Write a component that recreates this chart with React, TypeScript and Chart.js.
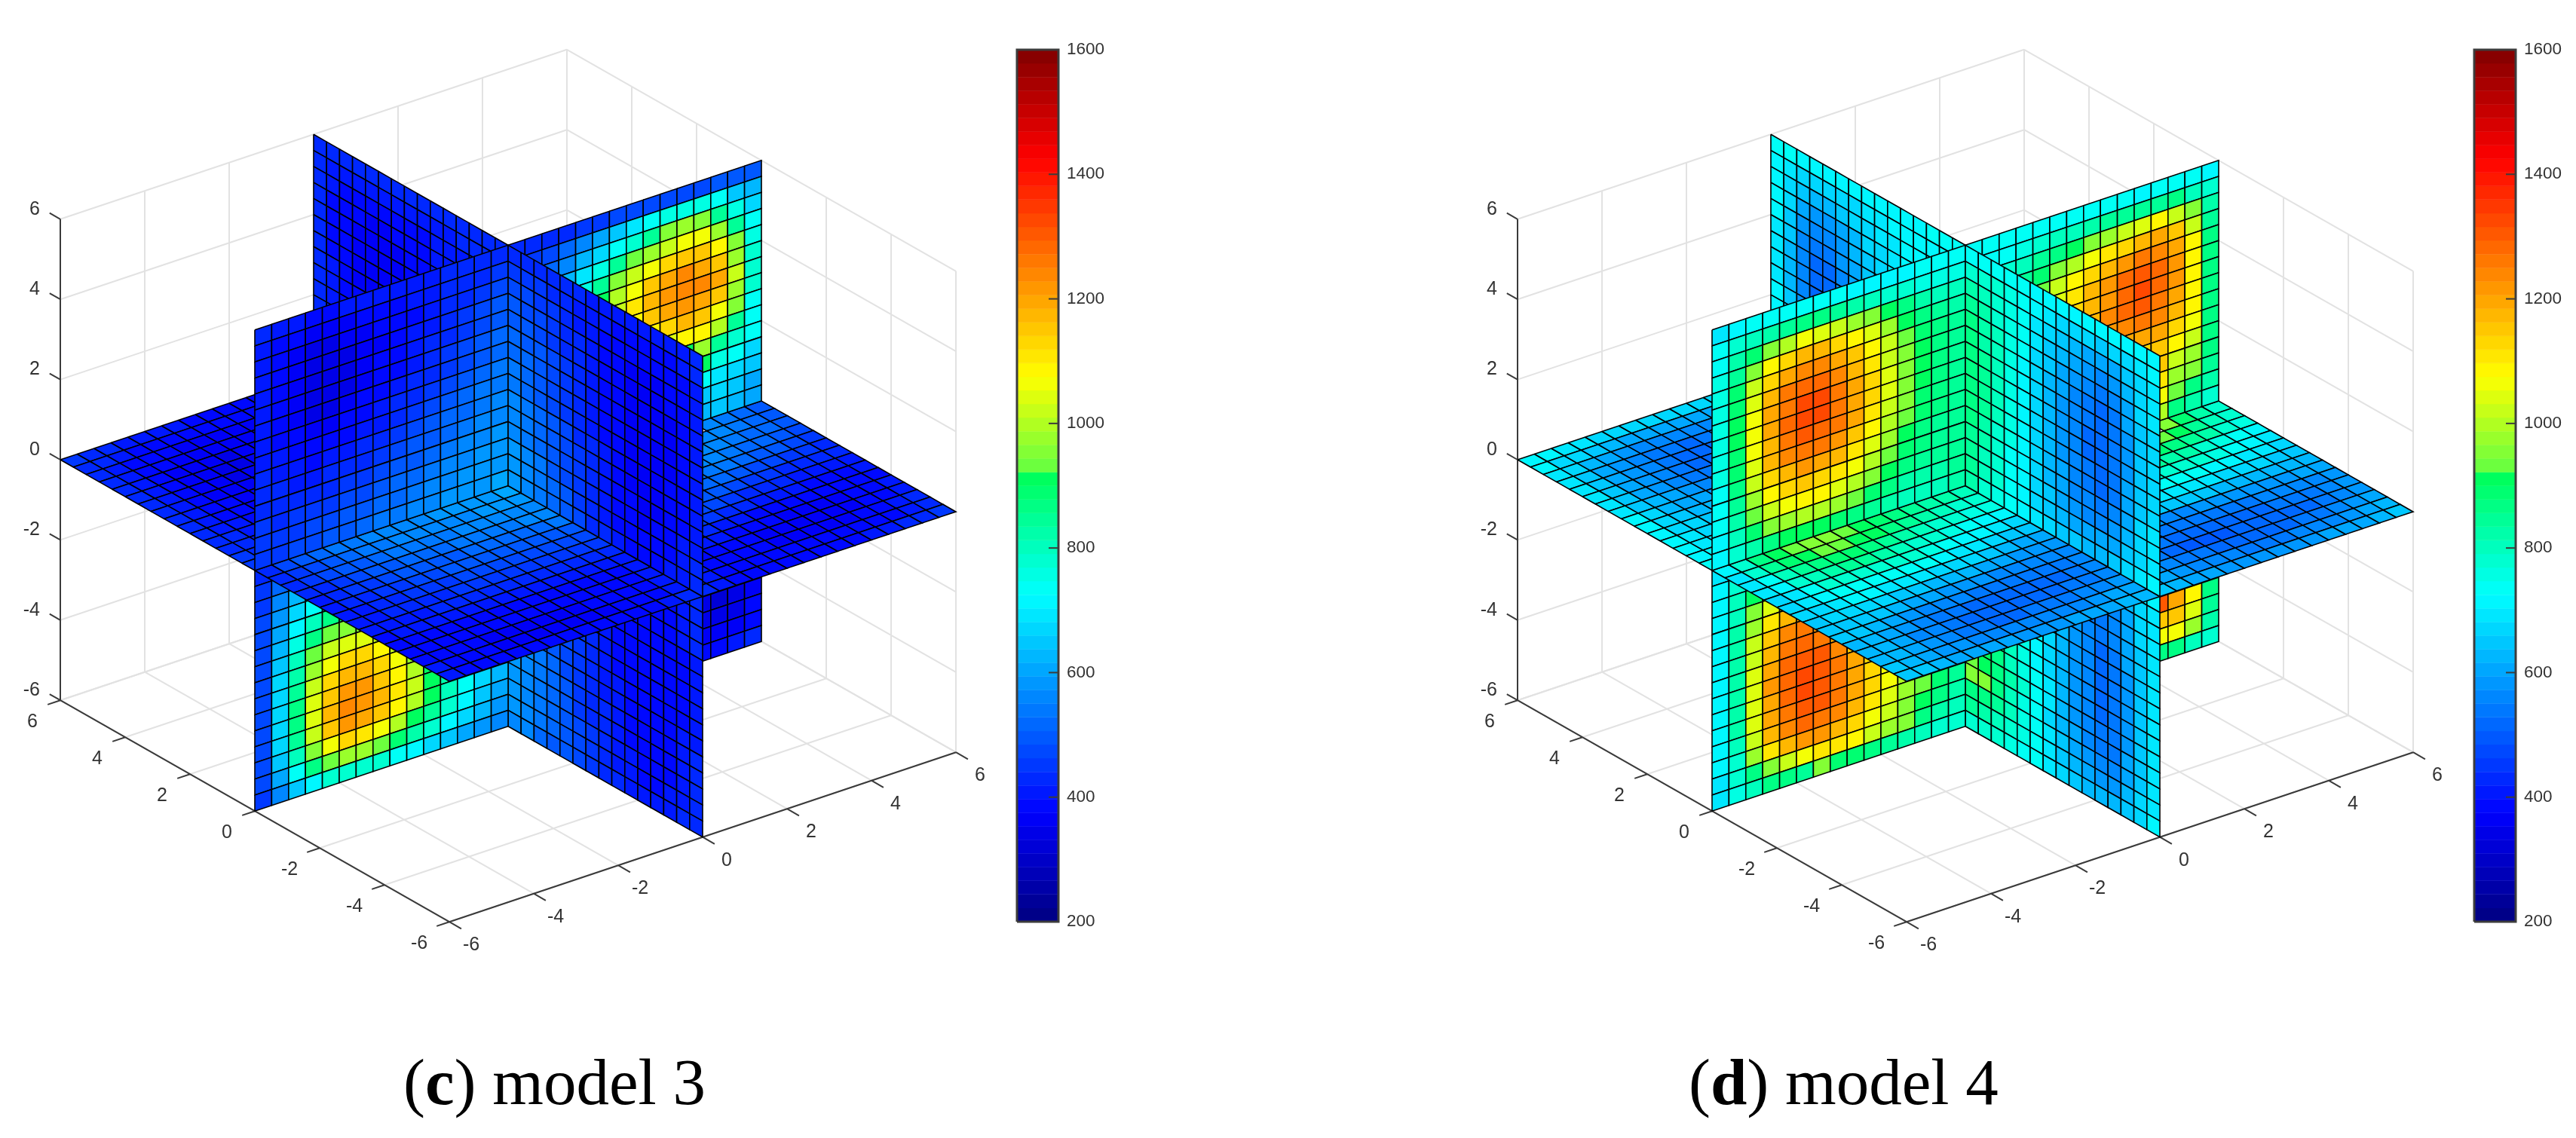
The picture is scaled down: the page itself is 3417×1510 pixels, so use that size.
import React, { useEffect, useRef } from "react";
import { Chart, registerables } from "chart.js";

Chart.register(...registerables);

const _ = null;

// ---------- model 3: cell temperatures ----------
const wallE3 = [
[420,410,400,395,395,400,400,405,410,410,415,420,425,430,440],
[410,395,375,365,365,370,375,385,395,400,410,420,430,440,460],
[405,385,365,350,350,355,365,375,385,395,410,420,435,450,480],
[400,380,355,345,340,350,360,370,385,400,415,430,445,465,490],
[400,375,355,340,335,345,360,375,390,405,420,440,455,475,500],
[405,380,355,345,340,350,365,380,395,410,430,450,470,490,510],
[405,385,365,350,350,360,375,390,405,420,440,460,480,500,520],
[410,390,375,365,365,375,385,400,420,435,455,475,495,515,530],
[415,400,385,380,380,390,400,415,435,450,470,490,510,530,545],
[420,410,400,395,400,405,420,435,450,470,490,510,525,545,555],
[430,420,415,415,420,425,440,455,470,490,505,525,540,555,565],
[440,430,430,430,440,445,460,475,490,505,525,540,555,565,575],
[445,440,445,450,455,465,475,490,510,525,540,555,565,575,585],
[450,450,455,465,475,485,495,510,525,540,555,565,575,585,590],
[455,460,470,480,490,500,515,530,545,555,565,575,585,590,595],
];
const wallF3 = [
[440,440,435,430,425,420,415,410,410,405,405,405,410,415,425],
[460,455,445,435,425,415,405,400,395,390,390,390,395,405,420],
[480,470,455,445,430,415,405,395,385,380,375,380,385,395,415],
[495,480,465,450,435,420,405,390,380,370,365,370,380,395,410],
[505,490,475,460,440,420,405,390,375,365,360,365,375,390,410],
[515,500,485,465,445,425,405,390,375,365,360,360,370,390,405],
[525,510,490,470,450,430,410,390,375,365,355,360,370,385,405],
[535,515,495,475,455,435,410,395,375,365,355,360,370,385,405],
[540,525,505,480,460,435,415,395,380,365,355,360,370,385,405],
[550,530,510,485,465,440,420,400,380,365,360,360,375,390,410],
[560,540,515,495,470,445,425,400,385,370,360,365,375,390,410],
[565,545,525,500,475,450,425,405,385,375,365,370,380,395,410],
[575,555,530,505,480,455,430,410,390,380,370,375,385,400,415],
[585,560,535,510,485,460,435,415,395,385,380,380,390,405,420],
[590,565,540,515,490,465,440,420,405,395,390,390,400,410,425],
];
const floorG3 = [
[440,470,495,515,530,545,555,560,565,570,575,580,585,590,595],
[430,455,480,505,525,535,545,550,555,560,565,570,575,580,585],
[425,445,470,490,505,520,530,535,540,545,550,555,560,565,570],
[420,440,455,475,490,500,510,520,525,530,535,540,545,550,550],
[415,430,445,460,475,485,495,500,505,510,515,520,525,525,530],
[410,425,435,450,460,470,480,485,490,490,495,500,500,505,505],
[405,415,425,435,445,455,460,465,470,470,475,475,480,480,480],
[400,410,420,425,435,440,445,450,450,450,455,455,455,455,455],
[400,405,410,415,420,425,430,430,430,430,430,430,430,430,430],
[395,400,400,405,410,410,410,410,410,410,410,410,410,410,410],
[395,395,395,395,395,395,395,395,395,395,395,395,395,395,400],
[395,390,385,385,385,380,380,380,380,380,380,385,385,390,400],
[395,385,380,375,370,370,370,370,370,370,375,375,385,390,405],
[400,390,380,375,370,365,365,365,365,370,370,380,385,395,410],
[405,395,385,380,375,375,375,375,375,380,380,385,395,405,420],
];
const wallH3 = [
[430,470],
[450,520,560],
[460,560,620,650],
[470,590,680,740,780],
[470,610,720,800,860,880],
[475,630,760,870,930,960,960],
[480,650,800,930,1010,1040,1040,1010],
[480,660,830,980,1070,1120,1120,1080,1020],
[480,670,850,1020,1130,1180,1180,1130,1060,980],
[480,670,860,1040,1160,1210,1210,1160,1090,1000,910],
[480,670,860,1050,1170,1230,1220,1170,1100,1010,920,830],
[480,660,850,1030,1150,1210,1200,1150,1080,990,900,810,730,670,620],
[475,640,810,960,1070,1120,1110,1070,1000,920,840,770,710,650,600],
[470,610,740,860,940,980,980,940,890,830,770,715,670,620,580],
[460,570,650,720,770,790,790,770,740,710,680,640,610,580,550],
];
const wallB3 = [
[430,430,430,440,450,460,470,480,480,480,480,480,485,485,485],
[_,460,480,510,550,600,650,700,735,750,760,750,725,650,620],
[_,_,520,570,620,680,730,790,850,950,970,960,850,760,670],
[_,_,_,620,690,760,840,940,980,1025,1060,1060,980,850,725],
[_,_,_,_,760,850,950,1010,1060,1140,1150,1150,1075,950,760],
[_,_,_,_,_,900,1000,1070,1150,1190,1230,1190,1150,980,780],
[_,_,_,_,_,_,1020,1100,1170,1210,1240,1230,1190,1025,790],
[_,_,_,_,_,_,_,1080,1150,1200,1220,1190,1150,980,790],
[_,_,_,_,_,_,_,_,1090,1140,1170,1150,1060,950,740],
[_,_,_,_,_,_,_,_,_,1050,1080,1075,1000,850,725],
[_,_,_,_,_,_,_,_,_,_,920,980,850,780,725],
[_,_,_,_,_,_,_,_,_,_,_,900,760,725,680],
[_,_,_,_,_,_,_,_,_,_,_,725,700,680,640],
[_,_,_,_,_,_,_,_,_,_,_,650,660,640,610],
[_,_,_,_,_,_,_,_,_,_,_,620,640,620,600],
];
const wallA3 = [
[440,430,425,425,425,425,425,425,425,430,430,430,430,435,440],
[430,410,405,400,400,400,400,400,405,410,415,420,425,430],
[425,405,390,385,385,385,385,390,395,400,405,415,425],
[425,395,380,375,370,370,375,380,390,400,410],
[425,395,375,365,365,365,370,380,390,400],
[425,395,375,360,360,360,370,380,395],
[425,395,375,360,360,365,375],
[425,400,380,365,365,370],
[430,405,385,375,375],
[430,410,395],
[435,415],
];
const floorC3 = [
[450,435,425,415,410,405,400,395,395,395,395,395],
[440,420,405,395,390,385,380,380,380,380,385],
[435,410,395,385,375,370,365,365,365,370,375],
[430,405,385,375,365,360,355,355,360,365],
[430,400,380,370,360,355,350,355,360],
[430,400,380,365,355,350,350,355],
[430,400,380,365,355,350,355],
[430,405,385,370,360,355,360],
[430,405,390,375,365,360],
[435,410,395,380,370],
[435,415,400,385],
[440,420,405,395],
[440,425,410],
[445,430],
[445],
];
const floorD3 = [
[_,_,_,_,_,_,_,_,_,_,_,560,540,520,500],
[_,_,_,_,_,_,_,_,_,_,560,550,540,520,500],
[_,_,_,_,_,_,_,_,_,560,550,530,520,510,490],
[_,_,_,_,_,_,_,_,555,550,540,520,510,490,475],
[_,_,_,_,_,_,_,545,540,530,510,500,490,470,460],
[_,_,_,_,_,_,_,520,510,500,480,470,460,450,440],
[_,_,_,_,_,_,500,490,480,460,450,440,430,430,425],
[_,_,_,_,_,480,470,460,440,430,420,415,410,410,415],
[_,_,_,_,455,450,440,425,415,405,400,395,395,395,400],
[_,_,_,430,425,415,405,395,385,380,380,380,380,385,395],
[_,_,415,405,400,390,385,375,370,370,370,370,375,385,400],
[420,410,395,385,380,375,370,365,365,365,370,370,380,395,415],
[420,405,395,385,380,375,370,370,370,370,370,375,385,400,420],
[420,405,395,385,385,380,375,375,375,375,380,385,395,410,430],
[420,405,395,390,385,385,385,385,390,395,400,410,420,430,445],
];
const wallI3 = [
[_,_,_,_,_,_,_,_,_,_,_,_,_,415,430],
[_,_,_,_,_,_,_,_,_,_,_,_,395,410,425],
[_,_,_,_,_,_,_,_,_,_,375,385,395,410,420],
[_,_,_,_,_,_,_,_,_,385,380,385,395,410,420],
[_,_,_,_,_,_,_,_,395,385,375,375,385,395,415],
[_,_,_,_,_,_,430,410,395,385,375,375,385,395,415],
[_,_,_,_,_,450,430,410,395,385,375,375,385,395,415],
[_,_,_,_,475,450,430,410,395,385,375,375,385,395,415],
[_,_,525,500,475,455,430,415,400,385,375,375,385,395,415],
[_,560,530,510,480,455,435,415,400,390,380,375,385,400,415],
[590,560,540,510,485,460,440,420,405,390,380,380,385,400,420],
[590,565,540,510,485,460,440,425,410,395,385,385,390,400,420],
[590,565,535,510,485,465,445,425,415,400,390,390,395,405,420],
[585,560,535,510,485,465,445,430,415,405,395,395,400,410,425],
[570,550,525,505,485,465,445,430,420,410,405,405,410,420,430],
];
const wallJ3 = [
[335,330,340,360],
[345,340,350,375],
[365,360,370,395],
[395,390,400,420],
];

// ---------- model 4: cell temperatures ----------
const wallE4 = [
[700,720,730,730,730,730,725,725,720,720,720,720,725,725,725],
[725,770,800,830,850,860,860,850,830,810,790,770,760,750,760],
[740,820,890,950,1000,1060,1050,1010,980,950,900,860,830,810,800],
[750,850,960,1075,1130,1170,1170,1140,1090,1040,970,910,870,840,830],
[760,880,1020,1130,1200,1240,1240,1200,1150,1080,1010,940,890,860,850],
[760,890,1050,1170,1250,1290,1290,1240,1180,1100,1030,950,900,870,850],
[760,900,1070,1190,1270,1320,1330,1270,1200,1120,1040,960,900,870,850],
[760,900,1070,1190,1280,1320,1330,1270,1200,1120,1040,960,900,860,850],
[760,890,1060,1180,1260,1300,1290,1250,1190,1100,1030,950,890,860,850],
[750,880,1050,1170,1230,1260,1250,1210,1150,1080,1000,930,880,860,850],
[740,870,1020,1120,1180,1210,1200,1170,1100,1040,970,910,870,850,850],
[740,850,980,1080,1120,1150,1140,1110,1060,1000,940,890,860,850,850],
[730,830,930,1020,1060,1080,1075,1040,1000,950,900,860,840,840,850],
[720,810,880,950,980,1000,990,970,930,890,860,830,830,830,840],
[710,780,830,860,900,910,900,890,870,850,820,810,810,810,820],
];
const wallF4 = [
[725,735,735,730,725,720,715,715,715,715,715,715,715,715,710],
[780,780,770,750,730,710,695,680,670,660,650,660,680,700,710],
[830,810,790,760,725,695,670,645,630,610,600,610,640,680,700],
[850,830,790,760,725,690,650,620,600,580,570,580,620,670,690],
[860,830,800,760,725,680,640,610,580,560,540,560,610,660,690],
[860,830,800,760,720,670,630,600,570,540,525,545,600,650,680],
[860,840,800,760,715,670,630,590,560,530,515,535,590,650,680],
[860,840,800,760,710,660,620,585,550,525,510,530,590,650,680],
[860,840,800,760,710,660,620,585,550,525,510,530,590,650,680],
[860,840,800,760,715,670,620,590,550,530,515,535,595,650,680],
[860,830,790,750,715,670,630,595,560,535,525,545,600,655,680],
[850,820,790,745,710,670,635,600,570,550,540,560,610,660,690],
[850,810,780,740,710,675,640,610,585,570,560,580,625,670,695],
[840,800,770,735,710,680,650,625,610,600,595,610,640,680,700],
[830,790,760,730,710,685,665,650,640,635,630,640,660,690,705],
];
const floorG4 = [
[720,790,860,900,930,950,950,940,920,890,860,840,830,820,810],
[700,770,840,880,910,930,930,920,900,870,840,820,800,790,780],
[690,740,800,840,860,880,880,870,850,830,810,790,770,760,750],
[690,720,770,810,830,840,840,830,810,790,770,750,735,720,710],
[680,700,740,770,790,790,790,780,770,750,735,720,705,690,680],
[670,690,715,735,745,745,740,735,725,715,700,685,670,655,645],
[660,680,695,705,705,695,690,685,680,670,660,645,630,615,610],
[650,670,675,675,665,650,640,635,630,625,615,600,590,580,580],
[645,655,650,640,625,605,595,590,585,580,570,560,555,550,560],
[640,640,630,610,590,570,555,550,545,540,535,530,530,530,550],
[630,625,610,580,560,540,530,520,520,520,520,520,520,530,555],
[630,620,600,570,550,530,520,515,515,515,520,520,530,545,570],
[630,620,600,575,555,540,530,525,525,530,530,540,550,570,590],
[640,625,610,590,575,560,555,550,550,555,560,565,580,595,610],
[650,640,625,615,605,600,595,590,590,590,595,605,610,620,635],
];
const wallH4 = [
[700,760],
[710,780,840],
[710,800,900,950],
[715,810,950,1050,1090],
[715,820,980,1110,1170,1190],
[715,830,1010,1150,1230,1250,1220],
[715,830,1030,1180,1260,1290,1270,1200],
[715,830,1040,1200,1280,1310,1300,1240,1160],
[715,830,1050,1210,1290,1320,1310,1260,1190,1120],
[715,820,1050,1200,1280,1320,1310,1260,1200,1130,1060],
[715,820,1040,1190,1270,1310,1310,1260,1200,1130,1070,1000],
[715,810,1020,1170,1240,1280,1270,1230,1170,1110,1050,980,940,880,850],
[710,790,970,1110,1180,1220,1210,1170,1120,1070,1010,950,910,860,830],
[700,770,860,960,1025,1060,1110,1100,1075,1025,980,950,870,830,800],
[700,760,800,870,870,850,950,880,880,860,850,830,800,780,770],
];
const wallB4 = [
[725,730,730,725,725,725,725,725,725,725,720,725,725,725,710],
[_,735,745,760,780,800,810,830,840,850,850,850,860,810,770],
[_,_,780,810,840,870,900,950,980,1010,1050,1075,1030,950,830],
[_,_,_,850,890,950,1000,1060,1100,1140,1170,1190,1150,1020,850],
[_,_,_,_,940,1010,1075,1130,1170,1220,1250,1240,1190,1075,860],
[_,_,_,_,_,1050,1110,1170,1210,1280,1300,1280,1220,1090,860],
[_,_,_,_,_,_,1120,1180,1220,1290,1320,1290,1220,1090,860],
[_,_,_,_,_,_,_,1170,1230,1280,1300,1270,1200,1090,860],
[_,_,_,_,_,_,_,_,1210,1240,1260,1230,1170,1075,860],
[_,_,_,_,_,_,_,_,_,1190,1200,1190,1120,1060,860],
[_,_,_,_,_,_,_,_,_,_,1140,1150,1080,1020,860],
[_,_,_,_,_,_,_,_,_,_,_,1150,1020,980,860],
[_,_,_,_,_,_,_,_,_,_,_,1110,970,950,840],
[_,_,_,_,_,_,_,_,_,_,_,1060,930,860,820],
[_,_,_,_,_,_,_,_,_,_,_,1000,860,830,790],
];
const wallA4 = [
[725,725,710,710,710,710,715,715,715,715,715,715,725,725,725],
[715,690,670,660,660,670,680,690,700,705,710,715,720,725],
[710,670,640,620,620,640,660,675,690,695,705,715,725],
[710,660,610,585,590,610,635,660,680,695,705],
[705,650,590,560,565,590,620,650,675,695],
[700,640,570,530,540,575,610,645,675],
[700,635,560,520,525,570,610],
[700,635,555,510,520,565],
[700,635,560,520,530],
[705,645,580],
[705,650],
];
const floorC4 = [
[720,710,700,690,680,670,665,660,660,665,670,670],
[710,680,660,640,625,610,605,600,600,605,610],
[700,665,635,610,590,570,560,555,550,555,565],
[700,650,615,590,565,545,530,525,530,540],
[695,645,610,580,555,530,520,515,525],
[695,645,610,580,550,530,520,520],
[700,650,615,590,565,545,535],
[700,655,625,600,580,560,555],
[705,665,635,615,600,585],
[705,670,650,630,620],
[710,680,665,650],
[715,690,675,660],
[715,700,685],
[720,705],
[725],
];
const floorD4 = [
[_,_,_,_,_,_,_,_,_,_,_,950,880,820,790],
[_,_,_,_,_,_,_,_,_,_,930,900,850,800,770],
[_,_,_,_,_,_,_,_,_,880,870,850,820,780,750],
[_,_,_,_,_,_,_,_,840,830,820,790,760,740,720],
[_,_,_,_,_,_,_,790,790,780,770,750,730,715,700],
[_,_,_,_,_,_,_,735,730,725,715,705,695,685,675],
[_,_,_,_,_,_,700,695,690,685,675,670,660,650,650],
[_,_,_,_,_,640,640,640,640,635,630,630,625,620,625],
[_,_,_,_,580,570,570,575,580,585,585,585,590,595,600],
[_,_,_,560,545,530,530,530,540,545,550,555,560,570,580],
[_,_,550,530,515,510,510,515,520,525,530,535,545,560,580],
[580,555,530,515,505,505,505,510,510,510,515,525,540,560,585],
[600,580,555,540,530,525,520,520,520,525,530,540,555,575,600],
[625,605,585,570,560,550,545,545,545,550,555,565,580,595,620],
[640,625,610,600,590,585,580,580,585,590,595,600,610,625,640],
];
const wallI4 = [
[_,_,_,_,_,_,_,_,_,_,_,_,_,690,705],
[_,_,_,_,_,_,_,_,_,_,_,_,625,660,700],
[_,_,_,_,_,_,_,_,_,_,520,555,610,660,700],
[_,_,_,_,_,_,_,_,_,545,530,560,610,660,700],
[_,_,_,_,_,_,_,_,580,550,530,550,600,655,700],
[_,_,_,_,_,_,680,630,590,550,520,540,595,650,695],
[_,_,_,_,_,720,680,630,590,550,520,535,590,650,695],
[_,_,_,_,760,715,670,630,590,550,520,530,590,650,695],
[_,_,860,810,760,720,680,635,590,550,520,530,590,650,695],
[_,900,860,810,765,725,685,635,590,550,525,530,590,650,695],
[940,910,870,820,770,730,685,635,590,555,530,535,590,650,695],
[950,950,860,810,765,725,680,635,595,560,540,545,595,650,695],
[860,860,840,800,760,725,685,645,605,575,555,560,600,655,700],
[840,830,810,785,755,725,690,655,620,595,580,585,620,665,700],
[790,790,780,760,745,725,700,675,650,630,620,625,645,680,710],
];
const wallJ4 = [
[1310,1190,1075,860],
[1160,1150,1040,850],
[1060,1060,970,820],
[870,860,810,780],
];

// ---------- axes ----------
const boxTicks = [-6, -4, -2, 0, 2, 4, 6];
const colorbarTicks = [200, 400, 600, 800, 1000, 1200, 1400, 1600];
const captions = [
  { head: "(", bold: "c", tail: ") model 3" },
  { head: "(", bold: "d", tail: ") model 4" },
];

// ---------- geometry & styles ----------
const W = 3417;
const H = 1510;
const PANEL_DX = [0, 1933];
const CENTER = { x: 674, y: 644.5 };
const EA = { x: -43, y: -24.5 };
const EB = { x: 56, y: -18.75 };
const EZ = -53.2;
const STEP = 0.4;
const CB = { left: 1349, right: 1404, top: 66, bottom: 1223, min: 200, max: 1600, bands: 64 };
const CAPTION_X = [535, 2240];
const CAPTION_Y = 1465;

type P = { x: number; y: number };
const project = (a: number, b: number, z: number, dx: number): P => ({
  x: dx + CENTER.x + a * EA.x + b * EB.x,
  y: CENTER.y + a * EA.y + b * EB.y + z * EZ,
});

function jet(v: number): string {
  const k = Math.max(0, Math.min(CB.bands - 1, Math.floor(((v - CB.min) / (CB.max - CB.min)) * CB.bands)));
  const m = CB.min + ((k + 0.5) * (CB.max - CB.min)) / CB.bands;
  let r = 0, g = 0, b = 0;
  if (m < 375) { b = 128 + (127 * (m - 200)) / 175; }
  else if (m < 725) { b = 255; g = (255 * (m - 375)) / 350; }
  else if (m < 915) { g = 255; b = 255 - (165 * (m - 725)) / 190; }
  else if (m < 1075) { g = 255; r = 90 + (165 * (m - 915)) / 160; b = 70 - (70 * (m - 915)) / 160; }
  else if (m < 1425) { r = 255; g = (255 * (1425 - m)) / 350; }
  else { r = 255 - (127 * (m - 1425)) / 175; }
  return `rgb(${Math.round(r)},${Math.round(g)},${Math.round(b)})`;
}

type Corner = (r: number, c: number) => [number, number, number];
const polygon = (pts: P[], fill: string, stroke: string, width: number) => ({
  data: [...pts, pts[0]],
  backgroundColor: fill,
  borderColor: stroke,
  borderWidth: width,
  fill: "shape",
  pointRadius: 0,
  tension: 0,
  borderJoinStyle: "miter",
});
const segment = (p: P, q: P, color: string, width: number) => ({
  data: [p, q],
  borderColor: color,
  borderWidth: width,
  fill: false,
  pointRadius: 0,
  tension: 0,
});

function cells(m: (number | null)[][], at: Corner, dx: number, r0 = 0, c0 = 0) {
  const out: any[] = [];
  m.forEach((row, ri) =>
    row.forEach((v, ci) => {
      if (v === null) return;
      const r = ri + r0;
      const c = ci + c0;
      const pts = [at(r, c), at(r, c + 1), at(r + 1, c + 1), at(r + 1, c)].map((p) => project(p[0], p[1], p[2], dx));
      out.push(polygon(pts, jet(v), "#000000", 1.6));
    })
  );
  return out;
}

const atE: Corner = (r, c) => [0, -6 + STEP * c, 6 - STEP * r];
const atF: Corner = (r, c) => [-STEP * c, 0, 6 - STEP * r];
const atH: Corner = (r, c) => [0, -6 + STEP * c, -STEP * r];
const atI: Corner = (r, c) => [-STEP * c, 0, -STEP * r];
const atA: Corner = (r, c) => [6 - STEP * c, 0, 6 - STEP * r];
const atB: Corner = (r, c) => [0, STEP * c, 6 - STEP * r];
const atJ: Corner = (r, c) => [0, STEP * c, -STEP * r];
const atG: Corner = (r, c) => [-STEP * r, -6 + STEP * c, 0];
const atC: Corner = (r, c) => [6 - STEP * r, -6 + STEP * c, 0];
const atD: Corner = (r, c) => [-STEP * r, STEP * c, 0];

const models = [
  { E: wallE3, F: wallF3, G: floorG3, H: wallH3, B: wallB3, A: wallA3, C: floorC3, D: floorD3, I: wallI3, J: wallJ3 },
  { E: wallE4, F: wallF4, G: floorG4, H: wallH4, B: wallB4, A: wallA4, C: floorC4, D: floorD4, I: wallI4, J: wallJ4 },
];

function buildDatasets() {
  const ds: any[] = [];
  const GRID = "#e2e2e2";
  const AXIS = "#3a3a3a";
  models.forEach((m, idx) => {
    const dx = PANEL_DX[idx];
    boxTicks.forEach((t) => {
      ds.push(segment(project(t, -6, -6, dx), project(t, 6, -6, dx), GRID, 2));
      ds.push(segment(project(-6, t, -6, dx), project(6, t, -6, dx), GRID, 2));
      ds.push(segment(project(6, t, -6, dx), project(6, t, 6, dx), GRID, 2));
      ds.push(segment(project(6, -6, t, dx), project(6, 6, t, dx), GRID, 2));
      ds.push(segment(project(t, 6, -6, dx), project(t, 6, 6, dx), GRID, 2));
      ds.push(segment(project(6, 6, t, dx), project(-6, 6, t, dx), GRID, 2));
    });
    ds.push(segment(project(6, -6, -6, dx), project(6, -6, 6, dx), AXIS, 2));
    ds.push(segment(project(6, -6, -6, dx), project(-6, -6, -6, dx), AXIS, 2));
    ds.push(segment(project(-6, -6, -6, dx), project(-6, 6, -6, dx), AXIS, 2));
    boxTicks.forEach((t) => {
      ds.push(segment(project(6, -6, t, dx), project(6.33, -6, t, dx), AXIS, 2));
      ds.push(segment(project(t, -6, -6, dx), project(t, -6.3, -6, dx), AXIS, 2));
      ds.push(segment(project(-6, t, -6, dx), project(-6.37, t, -6, dx), AXIS, 2));
    });
    ds.push(...cells(m.J, atJ, dx, 11, 11));
    ds.push(...cells(m.I, atI, dx));
    ds.push(...cells(m.H, atH, dx));
    ds.push(...cells(m.C, atC, dx));
    ds.push(...cells(m.D, atD, dx));
    ds.push(...cells(m.G, atG, dx));
    ds.push(...cells(m.A, atA, dx));
    ds.push(...cells(m.B, atB, dx));
    ds.push(...cells(m.E, atE, dx));
    ds.push(...cells(m.F, atF, dx));

    const yOf = (v: number) => CB.bottom - ((v - CB.min) / (CB.max - CB.min)) * (CB.bottom - CB.top);
    for (let k = 0; k < CB.bands; k++) {
      const lo = CB.min + (k * (CB.max - CB.min)) / CB.bands;
      const hi = CB.min + ((k + 1) * (CB.max - CB.min)) / CB.bands;
      const col = jet((lo + hi) / 2);
      ds.push(polygon(
        [{ x: CB.left + dx, y: yOf(lo) }, { x: CB.right + dx, y: yOf(lo) }, { x: CB.right + dx, y: yOf(hi) }, { x: CB.left + dx, y: yOf(hi) }],
        col, col, 0.5));
    }
    ds.push({
      ...polygon(
        [{ x: CB.left + dx, y: CB.bottom }, { x: CB.right + dx, y: CB.bottom }, { x: CB.right + dx, y: CB.top }, { x: CB.left + dx, y: CB.top }],
        "rgba(0,0,0,0)", "#3c3c3c", 3),
      fill: false,
    });
    colorbarTicks.slice(1, -1).forEach((v) =>
      ds.push(segment({ x: CB.right + dx - 13, y: yOf(v) }, { x: CB.right + dx, y: yOf(v) }, "#3c3c3c", 2))
    );
  });
  return ds.reverse();
}

const textPlugin = {
  id: "panelText",
  afterDatasetsDraw(chart: any) {
    const { ctx, scales } = chart;
    const px = (x: number) => scales.x.getPixelForValue(x);
    const py = (y: number) => scales.y.getPixelForValue(y);
    ctx.save();
    ctx.fillStyle = "#333333";
    ctx.textBaseline = "middle";
    PANEL_DX.forEach((dx, idx) => {
      ctx.font = '25px "Liberation Sans"';
      boxTicks.forEach((t) => {
        const pz = project(6, -6, t, dx);
        ctx.textAlign = "right";
        ctx.fillText(String(t), px(pz.x - 27), py(pz.y - 13));
        const pa = project(t, -6, -6, dx);
        ctx.textAlign = "center";
        ctx.fillText(String(t), px(pa.x - 37 - (t < 0 ? 3 : 0)), py(pa.y + 29));
        const pb = project(-6, t, -6, dx);
        ctx.fillText(String(t), px(pb.x + 32 - (t < 0 ? 3 : 0)), py(pb.y + 31));
      });
      ctx.font = '22.5px "Liberation Sans"';
      ctx.textAlign = "left";
      colorbarTicks.forEach((v) => {
        const y = CB.bottom - ((v - CB.min) / (CB.max - CB.min)) * (CB.bottom - CB.top);
        ctx.fillText(String(v), px(CB.right + dx + 11), py(y));
      });
      const cap = captions[idx];
      ctx.fillStyle = "#000000";
      ctx.textBaseline = "alphabetic";
      let x = CAPTION_X[idx];
      [[cap.head, false], [cap.bold, true], [cap.tail, false]].forEach(([s, bold]: any) => {
        ctx.font = `${bold ? "bold " : ""}87px "Liberation Serif"`;
        ctx.fillText(s, px(x), py(CAPTION_Y));
        x += ctx.measureText(s).width;
      });
      ctx.fillStyle = "#333333";
      ctx.textBaseline = "middle";
    });
    ctx.restore();
  },
};

export default function App() {
  const ref = useRef<HTMLCanvasElement | null>(null);
  useEffect(() => {
    if (!ref.current) return;
    const chart = new Chart(ref.current, {
      type: "line",
      data: { datasets: buildDatasets() },
      options: {
        animation: false,
        responsive: false,
        devicePixelRatio: 1,
        events: [],
        clip: false,
        layout: { padding: 0 },
        plugins: { legend: { display: false }, tooltip: { enabled: false }, title: { display: false } },
        scales: {
          x: { type: "linear", min: 0, max: W, display: false },
          y: { type: "linear", min: 0, max: H, reverse: true, display: false },
        },
      },
      plugins: [textPlugin],
    } as any);
    return () => chart.destroy();
  }, []);
  return (
    <canvas
      ref={ref}
      width={W}
      height={H}
      style={{ position: "absolute", left: 0, top: 0, display: "block", background: "#ffffff" }}
    />
  );
}
